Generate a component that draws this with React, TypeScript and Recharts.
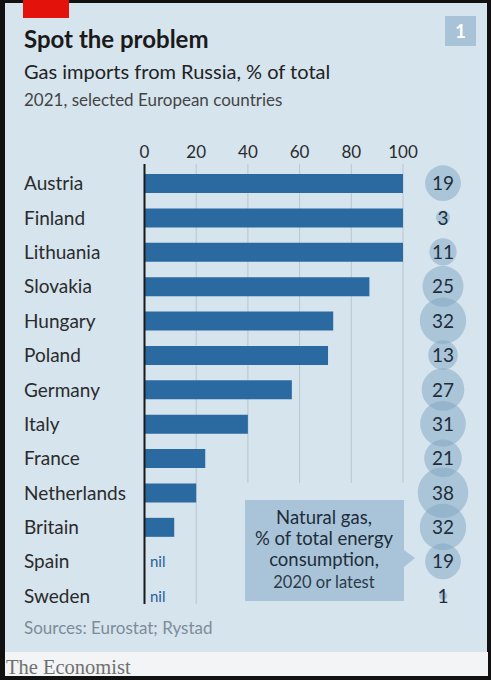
import { BarChart, Bar, XAxis, YAxis, CartesianGrid, ReferenceLine } from "recharts";

const countries = [
  "Austria", "Finland", "Lithuania", "Slovakia", "Hungary", "Poland", "Germany",
  "Italy", "France", "Netherlands", "Britain", "Spain", "Sweden",
];
// gas imports from Russia, % of total, 2021 (null = nil)
const russiaShare: (number | null)[] = [100, 100, 100, 87, 73, 71, 57, 40, 23.5, 20, 11.5, null, null];
// natural gas, % of total energy consumption
const gasShareOfEnergy = [19, 3, 11, 25, 32, 13, 27, 31, 21, 38, 32, 19, 1];
const xTicks = [0, 20, 40, 60, 80, 100];

const data = countries.map((country, i) => ({ country, russia: russiaShare[i] }));

const FONT = "Lato, 'Open Sans', sans-serif";
const BG = "#d6e4ee";
const BAR = "#2a6aa1";
const CIRCLE_X = 443;

function CountryTick(props: any) {
  const { y, payload } = props;
  const i = countries.indexOf(payload.value);
  const energy = gasShareOfEnergy[i];
  return (
    <g>
      <text x={24} y={y} dy={7} fontFamily={FONT} fontSize={19} fill="#2b2b2b">
        {payload.value}
      </text>
      {russiaShare[i] == null && (
        <text x={150} y={y} dy={6} fontFamily={FONT} fontSize={15} fill="#1f5f99">
          nil
        </text>
      )}
      <circle cx={CIRCLE_X} cy={y} r={4.1 * Math.sqrt(energy)} fill="#7fa5c2" fillOpacity={0.5} />
      <text x={CIRCLE_X} y={y} dy={7} textAnchor="middle" fontFamily={FONT} fontSize={19} fill="#1e2d3c">
        {energy}
      </text>
    </g>
  );
}

function ValueTick(props: any) {
  const { x, y, payload } = props;
  return (
    <text x={x} y={y} textAnchor="middle" fontFamily={FONT} fontSize={17} fill="#2b2b2b">
      {payload.value}
    </text>
  );
}

function GridLine(props: any) {
  const { x1, y1, x2, y2, index } = props;
  if (index === 0) return <g key={props.key} />;
  const end = index === 1 ? y2 - 9 : y1 + 317;
  return <line key={props.key} x1={x1} x2={x2} y1={y1 - 2} y2={end} stroke="#b9c6d0" strokeWidth={1} />;
}

export default function App() {
  return (
    <div style={{ position: "fixed", left: 0, top: 0, width: 491, height: 680, background: "#111", overflow: "hidden" }}>
      <div style={{ position: "absolute", left: 5, top: 3, width: 482, height: 649, background: BG }} />
      <div style={{ position: "absolute", left: 5, top: 652, width: 483, height: 24, background: "#f2f4f5" }} />
      <div style={{ position: "absolute", left: 23, top: 0, width: 46, height: 18, background: "#e3120b" }} />
      <div
        style={{
          position: "absolute", left: 445, top: 16, width: 31, height: 30, background: "#a8c2d7",
          color: "#fff", fontFamily: FONT, fontWeight: 700, fontSize: 19, textAlign: "center", lineHeight: "30px",
        }}
      >
        1
      </div>
      <div style={{ position: "absolute", left: 24, top: 27, fontFamily: FONT, fontWeight: 700, fontSize: 24, color: "#1a1a1a", lineHeight: 1, whiteSpace: "nowrap" }}>
        Spot the problem
      </div>
      <div style={{ position: "absolute", left: 24, top: 61, fontFamily: FONT, fontSize: 20, color: "#222", lineHeight: 1, whiteSpace: "nowrap" }}>
        Gas imports from Russia, % of total
      </div>
      <div style={{ position: "absolute", left: 24, top: 91, fontFamily: FONT, fontSize: 17, color: "#444", lineHeight: 1, whiteSpace: "nowrap" }}>
        2021, selected European countries
      </div>
      <div style={{ position: "absolute", left: 24, top: 619, fontFamily: FONT, fontSize: 17, color: "#7d8c99", lineHeight: 1, whiteSpace: "nowrap" }}>
        Sources: Eurostat; Rystad
      </div>
      <div style={{ position: "absolute", left: 6, top: 657, fontFamily: "'Liberation Serif', serif", fontSize: 20.5, color: "#707070", lineHeight: 1, whiteSpace: "nowrap" }}>
        The Economist
      </div>
      <div style={{ position: "absolute", left: 0, top: 0 }}>
        <BarChart
          width={491}
          height={680}
          data={data}
          layout="vertical"
          margin={{ top: 136, right: 88, bottom: 67, left: 24.5 }}
        >
          <CartesianGrid horizontal={false} vertical={GridLine} />
          <XAxis
            type="number"
            orientation="top"
            domain={[0, 100]}
            ticks={xTicks}
            axisLine={false}
            tickLine={false}
            height={30}
            tick={ValueTick}
          />
          <YAxis
            type="category"
            dataKey="country"
            width={120}
            axisLine={false}
            tickLine={false}
            interval={0}
            tick={CountryTick}
          />
          <Bar dataKey="russia" fill={BAR} barSize={19} isAnimationActive={false} />
          <ReferenceLine
            x={0}
            stroke="#1a1a1a"
            strokeWidth={2}
            shape={(p: any) => <line x1={p.x1} x2={p.x2} y1={p.y1 - 2} y2={p.y2 - 9} stroke="#1a1a1a" strokeWidth={2} />}
          />
        </BarChart>
      </div>
      <svg style={{ position: "absolute", left: 0, top: 0 }} width={491} height={680}>
        <rect x={245} y={500} width={159} height={101} fill="#a9c4d8" />
        <polygon points="404,550 415,558 404,567" fill="#a9c4d8" />
        <text fontFamily={FONT} fill="#1e2d3c" textAnchor="middle" fontSize={18.5}>
          <tspan x={324} y={524}>Natural gas,</tspan>
          <tspan x={324} y={545}>% of total energy</tspan>
          <tspan x={324} y={566}>consumption,</tspan>
          <tspan x={324} y={588} fontSize={16.5} fill="#2b3a48">2020 or latest</tspan>
        </text>
      </svg>
    </div>
  );
}
